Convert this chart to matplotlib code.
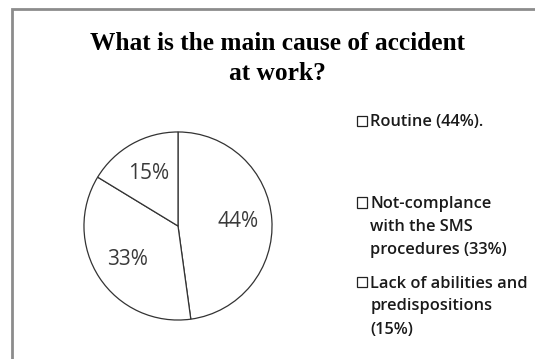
import matplotlib.pyplot as plt
from matplotlib.patches import Rectangle

# answers to the survey question
causes = ["Routine (44%).",
          "Not-complance\nwith the SMS\nprocedures (33%)",
          "Lack of abilities and\npredispositions\n(15%)"]
shares = [44, 33, 15]
title = "What is the main cause of accident\nat work?"

W, H = 535, 359
fig = plt.figure(figsize=(W / 100, H / 100), dpi=100)
fig.patch.set_facecolor("white")


def px(x, y):
    # pixel position (from top-left) -> figure fraction
    return x / W, 1 - y / H


# grey chart-area frame (only the top and left edges fall inside the image)
fig.patches.append(Rectangle((12 / W, -0.5), 1.5, 1.5 - 9 / H, transform=fig.transFigure,
                             fill=False, edgecolor="#8c8c8c", linewidth=2))

for i, line in enumerate(title.split("\n")):
    fig.text(*px(277, 50 + 30 * i), line, ha="center", va="baseline",
             family="Liberation Serif", weight="bold", fontsize=18.3)

# pie: centre (178, 226) px, radius 94.5 px
cx, cy, r = 178, 226, 94.5
ax = fig.add_axes([(cx - r) / W, 1 - (cy + r) / H, 2 * r / W, 2 * r / H])
total = sum(shares)
wedges, texts, autotexts = ax.pie(
    shares, startangle=90, counterclock=False,
    colors=["white"] * len(shares),
    wedgeprops=dict(edgecolor="#333333", linewidth=0.9),
    autopct=lambda p: f"{p * total / 100:.0f}%", pctdistance=0.64,
    textprops=dict(family="Open Sans", fontsize=15, color="#3a3a3a"))
ax.set_xlim(-1.005, 1.005)
ax.set_ylim(-1.005, 1.005)
ax.set_aspect("equal")

# legend: empty squares aligned with the first line of each entry
first_lines = [126.5, 208.3, 287.5]
for label, base in zip(causes, first_lines):
    fig.patches.append(Rectangle(px(356.5, base - 0.5), 10.5 / W, 10.5 / H,
                                 transform=fig.transFigure, fill=True,
                                 facecolor="white", edgecolor="#222222", linewidth=0.9))
    for j, line in enumerate(label.split("\n")):
        fig.text(*px(370.5, base + 23 * j), line, ha="left", va="baseline",
                 family="Open Sans", weight="semibold", fontsize=11.8,
                 color="#1a1a1a")

fig.savefig("out.png", dpi=100)
